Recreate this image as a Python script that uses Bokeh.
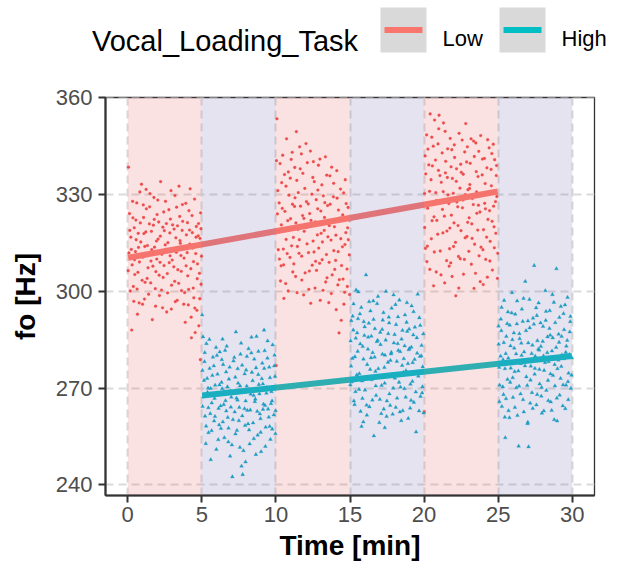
from bokeh.plotting import figure
from bokeh.layouts import column
from bokeh.models import Range1d, FixedTicker
from bokeh.core.properties import value
from bokeh.embed import file_html
from bokeh.resources import INLINE

# ---------------- data ----------------
legend_title = "Vocal_Loading_Task"
tasks = ["Low", "High"]
task_colors = {"Low": "#F8766D", "High": "#00BFC4"}
point_colors = {"Low": "#EE4444", "High": "#08A8C6"}
band_colors = {"Low": "#EB6E6E", "High": "#7D73B4"}

block_start = [0, 5, 10, 15, 20, 25]
block_end = [5, 10, 15, 20, 25, 30]
block_task = ["Low", "High", "Low", "High", "Low", "High"]

x_ticks = [0, 5, 10, 15, 20, 25, 30]
y_ticks = [240, 270, 300, 330, 360]

# linear fits (intercept, slope)
low_fit = [310.4, 0.824]
high_fit = [265.2, 0.493]

block1 = [
(0.05,338.5),(0.12,324.1),(0.21,316.8),(0.30,308.2),(0.38,301.5),(0.44,319.7),(0.52,312.3),(0.61,327.4),(0.69,305.9),(0.77,296.4),
(0.85,321.2),(0.93,333.2),(1.02,310.6),(1.09,317.9),(1.17,302.8),(1.26,325.6),(1.33,314.2),(1.41,299.1),(1.50,330.3),(1.57,309.4),
(1.66,291.2),(1.73,320.5),(1.81,313.7),(1.90,306.1),(1.98,323.8),(2.05,316.2),(2.14,298.7),(2.22,334.0),(2.30,311.5),(2.39,304.3),
(2.47,318.8),(2.55,327.9),(2.63,293.6),(2.71,315.1),(2.80,308.9),(2.88,322.4),(2.96,301.9),(3.05,312.8),(3.13,319.3),(3.21,296.8),
(3.30,326.1),(3.38,306.7),(3.46,332.6),(3.55,314.9),(3.63,300.2),(3.71,321.7),(3.80,310.3),(3.88,290.4),(3.96,317.5),(4.05,304.8),
(4.13,325.0),(4.21,331.8),(4.30,285.6),(4.38,313.4),(4.46,298.0),(4.55,287.2),(4.63,320.1),(4.71,308.5),(4.80,289.3),(4.88,316.4),
(4.95,302.2),
(0.08,311.9),(0.17,300.1),(0.27,288.0),(0.35,322.8),(0.48,305.2),(0.57,316.0),(0.66,292.9),(0.73,313.6),(0.82,330.8),(0.97,303.4),
(1.05,326.8),(1.13,297.6),(1.22,318.4),(1.37,307.3),(1.46,320.9),(1.62,312.9),(1.77,329.1),(1.86,300.8),(1.94,315.6),(2.09,321.5),
(2.18,309.0),(2.35,294.9),(2.43,324.6),(2.59,313.0),(2.67,305.5),(2.84,318.1),(2.92,331.2),(3.00,309.7),(3.17,303.1),(3.25,316.6),
(3.34,297.2),(3.51,323.2),(3.59,311.1),(3.67,318.9),(3.84,299.6),(3.92,327.3),(4.01,312.0),(4.09,295.8),(4.17,319.0),(4.26,307.0),
(4.34,323.5),(4.42,301.0),(4.51,328.6),(4.59,311.7),(4.67,294.1),(4.76,317.2),(4.84,305.6),(4.92,324.3),(4.98,310.9),(4.90,278.8),
(0.03,306.4),(0.14,318.9),(0.24,313.0),(0.33,327.9),(0.41,296.9),(0.46,309.8),(0.55,322.1),(0.63,300.7),(0.71,318.0),(0.79,309.1),
(0.88,315.3),(1.00,296.0),(1.07,322.9),(1.15,313.9),(1.24,331.6),(1.31,304.0),(1.39,311.2),(1.48,326.2),(1.55,302.6),(1.60,318.6),
(1.70,307.8),(1.79,322.3),(1.88,295.4),(1.96,310.0),(2.03,328.3),(2.12,305.0),(2.20,317.1),(2.28,300.4),(2.37,319.9),(2.45,308.0),
(2.53,314.4),(2.61,321.0),(2.69,299.5),(2.78,325.3),(2.86,311.0),(2.94,294.5),(3.03,320.6),(3.11,307.6),(3.19,329.7),(3.28,312.1),
(3.36,320.3),(3.44,302.5),(3.53,315.7),(3.61,306.2),(3.69,326.9),(3.78,296.0),(3.86,313.3),(3.94,307.9),(4.03,321.3),(4.11,300.6),
(4.19,314.6),(4.28,292.0),(4.36,318.2),(4.44,309.2),(4.53,294.8),(4.61,316.8),(4.69,303.9),(4.78,321.0),(4.86,297.7),(4.94,319.4),
]

block2 = [
(5.02,292.7),(5.08,285.9),(5.15,272.4),(5.22,261.3),(5.31,283.8),(5.38,268.7),(5.45,256.2),(5.53,276.1),(5.60,247.8),(5.67,265.4),
(5.75,279.6),(5.83,259.8),(5.90,270.9),(5.98,251.0),(6.06,274.3),(6.13,263.7),(6.21,281.2),(6.29,257.5),(6.37,269.8),(6.44,277.3),
(6.52,254.6),(6.60,266.1),(6.68,283.0),(6.75,260.9),(6.83,272.8),(6.91,248.9),(6.99,267.2),(7.06,242.5),(7.14,278.4),(7.22,262.6),
(7.30,287.4),(7.37,256.9),(7.45,271.5),(7.53,264.0),(7.61,280.5),(7.68,245.8),(7.76,243.2),(7.84,269.3),(7.92,258.4),(7.99,275.6),
(8.07,263.1),(8.15,282.2),(8.23,252.7),(8.30,268.1),(8.38,274.9),(8.46,259.2),(8.54,279.0),(8.61,266.6),(8.69,286.0),(8.77,255.4),
(8.85,271.1),(8.92,262.0),(9.00,250.3),(9.08,277.7),(9.16,265.0),(9.24,281.6),(9.31,257.9),(9.39,270.2),(9.47,263.5),(9.55,276.5),
(9.63,254.1),(9.70,268.9),(9.78,283.4),(9.86,261.7),(9.94,273.6),
(5.05,264.3),(5.18,278.2),(5.27,252.8),(5.42,270.0),(5.57,262.1),(5.71,273.9),(5.86,266.8),(6.02,280.1),(6.17,258.6),(6.33,271.8),
(6.48,264.9),(6.64,275.0),(6.79,253.3),(6.95,269.1),(7.10,260.2),(7.26,273.4),(7.41,266.3),(7.57,251.6),(7.72,277.1),(7.88,263.6),
(8.03,270.6),(8.19,257.0),(8.34,280.9),(8.50,267.7),(8.65,249.4),(8.81,274.2),(8.96,260.5),(9.12,271.3),(9.27,264.6),(9.43,279.3),
(9.58,258.1),(9.74,266.0),(9.89,276.9),(9.97,255.9),(6.40,285.2),(7.95,247.1),(9.20,288.0),
(5.04,275.5),(5.12,267.3),(5.20,281.0),(5.29,258.2),(5.36,273.0),(5.44,263.9),(5.51,285.1),(5.59,269.9),(5.66,256.8),(5.74,267.8),
(5.81,276.9),(5.89,261.2),(5.96,282.6),(6.04,268.3),(6.11,254.0),(6.19,271.0),(6.27,264.5),(6.35,278.8),(6.42,259.5),(6.50,268.9),
(6.57,281.7),(6.65,262.9),(6.73,270.4),(6.80,257.6),(6.88,276.5),(6.96,264.1),(7.03,252.4),(7.11,268.6),(7.19,279.5),(7.27,255.8),
(7.34,266.9),(7.42,276.0),(7.50,259.9),(7.58,270.7),(7.65,283.9),(7.73,261.4),(7.81,250.6),(7.89,274.4),(7.96,266.0),(8.04,279.8),
(8.12,258.9),(8.20,269.6),(8.27,263.2),(8.35,285.8),(8.43,272.3),(8.51,254.3),(8.58,265.8),(8.66,276.3),(8.74,262.8),(8.82,281.4),
(8.89,268.2),(8.97,256.3),(9.05,272.9),(9.13,263.4),(9.21,276.1),(9.29,251.9),(9.36,268.4),(9.44,284.6),(9.52,261.0),(9.60,273.2),
(9.67,265.2),(9.75,257.3),(9.83,270.1),(9.91,280.2),(9.98,263.0),
]

block3 = [
(10.07,353.5),(10.13,331.2),(10.20,318.4),(10.28,339.6),(10.35,307.9),(10.43,325.7),(10.50,313.1),(10.58,336.2),(10.66,302.4),(10.72,347.3),
(10.80,321.9),(10.88,329.8),(10.95,310.5),(11.03,340.9),(11.10,343.1),(11.18,316.7),(11.26,326.3),(11.33,304.6),(11.41,334.4),(11.49,319.2),
(11.56,311.8),(11.64,338.0),(11.72,342.6),(11.80,323.5),(11.87,298.9),(11.95,331.9),(12.03,345.8),(12.10,314.7),(12.18,327.1),(12.26,306.3),
(12.33,343.5),(12.41,320.8),(12.49,335.3),(12.57,312.2),(12.64,301.0),(12.72,328.4),(12.80,317.5),(12.87,339.1),(12.95,308.7),(13.03,324.9),
(13.10,333.0),(13.18,300.3),(13.26,318.9),(13.34,341.7),(13.41,311.4),(13.49,326.6),(13.57,296.5),(13.64,335.8),(13.72,315.9),(13.80,305.1),
(13.88,329.3),(13.95,320.0),(14.03,309.6),(14.11,337.4),(14.18,302.0),(14.26,287.1),(14.34,322.7),(14.41,291.0),(14.49,313.8),(14.57,330.5),
(14.64,299.7),(14.72,318.2),(14.80,306.9),(14.87,326.0),(14.95,311.3),
(10.10,324.0),(10.24,310.0),(10.39,333.7),(10.54,297.8),(10.69,316.1),(10.84,337.0),(10.99,322.5),(11.14,306.0),(11.29,329.0),(11.45,313.9),
(11.60,344.8),(11.75,303.5),(11.91,318.6),(12.06,327.8),(12.22,300.6),(12.37,322.0),(12.53,340.2),(12.68,309.3),(12.83,331.4),(12.99,297.2),
(13.14,315.3),(13.30,327.5),(13.45,304.2),(13.60,320.4),(13.76,338.5),(13.91,312.6),(14.07,294.3),(14.22,325.2),(14.38,316.3),(14.53,303.8),
(14.68,334.6),(14.84,319.7),(14.97,299.0),(10.02,277.0),(11.38,349.5),(12.45,308.1),
(10.04,340.5),(10.16,312.9),(10.22,327.4),(10.31,303.2),(10.37,320.6),(10.46,342.2),(10.52,308.2),(10.61,324.8),(10.68,332.6),(10.76,311.7),
(10.83,300.1),(10.91,319.5),(10.97,335.1),(11.06,314.1),(11.12,327.0),(11.21,308.5),(11.27,338.4),(11.35,321.2),(11.43,299.6),(11.51,330.6),
(11.58,316.0),(11.66,326.4),(11.74,310.9),(11.82,336.6),(11.89,322.6),(11.97,305.7),(12.05,319.8),(12.12,339.9),(12.20,312.0),(12.28,324.1),
(12.35,296.3),(12.43,330.1),(12.51,315.6),(12.59,334.0),(12.66,321.5),(12.74,306.5),(12.82,325.6),(12.89,313.4),(12.97,341.0),(13.05,318.0),
(13.12,309.8),(13.20,329.6),(13.28,322.9),(13.36,302.9),(13.43,336.0),(13.51,316.9),(13.59,309.0),(13.66,327.0),(13.74,299.3),(13.82,321.8),
(13.90,333.5),(13.97,306.8),(14.05,317.4),(14.13,328.9),(14.20,312.3),(14.28,303.6),(14.36,331.7),(14.43,308.0),(14.51,323.7),(14.59,296.0),
(14.66,314.5),(14.74,327.2),(14.82,301.5),(14.89,316.0),(14.96,322.1),
]

block4 = [
(15.04,284.6),(15.11,271.9),(15.18,292.3),(15.26,266.0),(15.33,279.7),(15.41,300.4),(15.48,287.1),(15.56,299.8),(15.63,274.5),(15.71,262.8),
(15.78,258.1),(15.86,282.9),(15.93,290.6),(16.01,269.4),(16.08,305.1),(16.16,277.3),(16.23,285.8),(16.31,264.2),(16.38,293.9),(16.46,272.6),
(16.53,281.0),(16.61,255.2),(16.68,288.4),(16.76,267.7),(16.83,296.2),(16.91,276.0),(16.98,259.3),(17.06,283.5),(17.13,270.8),(17.21,291.1),
(17.28,263.5),(17.36,280.2),(17.43,300.0),(17.51,274.0),(17.58,286.9),(17.66,268.2),(17.73,278.6),(17.81,294.8),(17.88,261.9),(17.96,284.0),
(18.03,273.1),(18.11,289.7),(18.18,266.9),(18.26,281.7),(18.33,297.3),(18.41,270.3),(18.48,285.2),(18.56,263.0),(18.63,279.1),(18.71,292.7),
(18.78,275.4),(18.86,287.6),(18.93,260.6),(19.01,282.3),(19.08,271.2),(19.16,295.5),(19.23,277.9),(19.31,265.6),(19.38,288.9),(19.46,256.4),
(19.53,280.8),(19.61,273.7),(19.68,291.8),(19.76,267.4),(19.83,283.2),(19.91,276.6),(19.97,262.3),
(15.07,276.8),(15.22,288.0),(15.37,268.9),(15.52,281.4),(15.67,293.0),(15.82,272.2),(15.97,286.3),(16.12,264.7),(16.27,290.1),(16.42,279.4),
(16.57,297.0),(16.72,275.2),(16.87,284.8),(17.02,266.5),(17.17,288.2),(17.32,276.4),(17.47,261.2),(17.62,292.0),(17.77,280.6),(17.92,270.0),
(18.07,295.9),(18.22,283.8),(18.37,262.6),(18.52,277.0),(18.67,269.8),(18.82,290.4),(18.97,281.9),(19.12,266.2),(19.27,286.5),(19.42,274.8),
(19.57,299.1),(19.72,279.8),(19.87,268.5),(15.90,259.5),(17.35,257.7),
(15.02,271.0),(15.09,290.9),(15.16,279.2),(15.24,296.1),(15.31,264.9),(15.39,285.5),(15.46,274.1),(15.54,291.5),(15.61,269.6),(15.69,283.7),
(15.76,295.0),(15.84,266.8),(15.91,279.0),(15.99,289.0),(16.06,272.9),(16.14,261.6),(16.21,282.1),(16.29,296.8),(16.36,275.8),(16.44,286.1),
(16.51,266.3),(16.59,291.3),(16.66,279.6),(16.74,270.7),(16.81,284.4),(16.89,298.4),(16.96,273.3),(17.04,287.3),(17.11,262.1),(17.19,280.5),
(17.26,293.4),(17.34,271.5),(17.41,284.9),(17.49,266.0),(17.56,278.0),(17.64,290.2),(17.71,264.6),(17.79,281.1),(17.86,273.7),(17.94,298.9),
(18.01,286.6),(18.09,264.0),(18.16,278.3),(18.24,292.1),(18.31,271.8),(18.39,281.3),(18.46,259.9),(18.54,287.9),(18.61,274.9),(18.69,283.1),
(18.76,267.2),(18.84,296.5),(18.91,277.6),(18.99,288.3),(19.06,263.8),(19.14,282.7),(19.21,272.1),(19.29,293.7),(19.36,278.9),(19.44,268.8),
(19.51,285.6),(19.59,275.0),(19.66,262.9),(19.74,289.4),(19.81,280.0),(19.89,270.4),(19.95,286.8),
]

block5 = [
(20.04,319.8),(20.11,336.4),(20.19,309.2),(20.26,344.1),(20.34,327.0),(20.41,355.0),(20.49,316.3),(20.56,338.9),(20.64,301.7),(20.71,353.1),
(20.79,330.6),(20.86,322.0),(20.94,345.7),(21.01,354.6),(21.09,312.5),(21.16,333.8),(21.24,325.4),(21.31,352.2),(21.39,302.6),(21.46,340.3),
(21.54,318.7),(21.61,329.9),(21.69,307.8),(21.76,347.4),(21.84,323.6),(21.91,335.0),(21.99,313.9),(22.06,341.5),(22.14,298.6),(22.21,327.7),
(22.29,320.4),(22.36,349.0),(22.44,310.1),(22.51,336.9),(22.59,325.9),(22.66,305.3),(22.74,343.2),(22.81,352.0),(22.89,317.0),(22.96,331.5),
(23.04,322.8),(23.11,339.7),(23.19,308.4),(23.26,328.8),(23.34,346.6),(23.41,314.6),(23.49,346.0),(23.56,324.2),(23.64,335.6),(23.71,311.0),
(23.79,303.0),(23.86,330.1),(23.94,341.0),(24.01,319.1),(24.09,327.3),(24.16,309.9),(24.24,338.3),(24.31,322.3),(24.39,344.5),(24.46,315.5),
(24.54,332.7),(24.61,306.6),(24.69,326.4),(24.76,340.8),(24.84,318.0),(24.91,329.4),(24.97,311.8),
(20.07,342.0),(20.22,314.0),(20.37,331.0),(20.52,347.8),(20.67,323.1),(20.82,306.0),(20.97,337.5),(21.12,327.6),(21.27,318.1),(21.42,349.6),
(21.57,335.3),(21.72,313.2),(21.87,343.9),(22.02,321.2),(22.17,334.1),(22.32,310.8),(22.47,339.4),(22.62,328.3),(22.77,316.6),(22.92,344.8),
(23.07,331.9),(23.22,320.9),(23.37,300.9),(23.52,337.1),(23.67,326.7),(23.82,348.3),(23.97,312.9),(24.12,333.4),(24.27,304.4),(24.42,325.0),
(24.57,342.7),(24.72,320.0),(24.87,335.9),(20.01,262.6),(21.80,308.8),
(20.03,330.3),(20.09,313.3),(20.17,348.5),(20.24,325.8),(20.32,339.2),(20.39,306.8),(20.47,334.6),(20.54,321.9),(20.62,345.0),(20.69,312.2),
(20.77,340.7),(20.84,328.1),(20.92,317.7),(20.99,350.4),(21.07,335.9),(21.14,305.1),(21.22,342.9),(21.29,330.9),(21.37,323.3),(21.44,336.7),
(21.52,309.5),(21.59,344.2),(21.67,327.2),(21.74,319.6),(21.82,338.6),(21.89,304.6),(21.97,330.4),(22.04,345.4),(22.12,315.2),(22.19,338.0),
(22.27,326.2),(22.34,301.0),(22.42,332.0),(22.49,318.8),(22.57,346.9),(22.64,336.3),(22.72,309.9),(22.79,330.0),(22.87,340.1),(22.94,321.4),
(23.02,312.4),(23.09,333.1),(23.17,347.3),(23.24,316.4),(23.32,326.9),(23.39,341.8),(23.47,305.6),(23.54,330.8),(23.62,319.0),(23.69,343.4),
(23.77,324.6),(23.84,313.7),(23.92,336.1),(23.99,302.1),(24.07,341.2),(24.14,325.6),(24.22,316.8),(24.29,347.0),(24.37,330.7),(24.44,309.4),
(24.52,337.8),(24.59,321.7),(24.67,345.6),(24.74,313.5),(24.82,327.8),(24.89,339.0),(24.95,304.0),
]

block6 = [
(25.03,283.6),(25.10,270.9),(25.18,291.4),(25.25,264.3),(25.33,278.8),(25.40,297.2),(25.48,254.6),(25.55,286.0),(25.63,272.7),(25.70,263.0),
(25.78,289.5),(25.85,276.2),(25.93,299.6),(26.00,267.1),(26.08,282.4),(26.15,292.9),(26.23,270.1),(26.30,261.5),(26.38,252.0),(26.45,285.3),
(26.53,277.6),(26.60,294.5),(26.68,266.4),(26.75,281.2),(26.83,303.1),(26.90,273.5),(26.98,259.0),(27.05,251.8),(27.13,288.7),(27.20,276.8),
(27.28,268.6),(27.35,291.7),(27.43,308.0),(27.50,279.9),(27.58,264.8),(27.65,284.7),(27.73,296.4),(27.80,271.3),(27.88,282.9),(27.95,262.2),
(28.03,289.1),(28.10,275.5),(28.18,300.2),(28.25,269.3),(28.33,285.9),(28.40,278.2),(28.48,294.0),(28.55,265.7),(28.63,281.5),(28.70,273.9),
(28.78,260.2),(28.85,290.3),(28.93,307.0),(29.00,276.0),(29.08,286.7),(29.15,267.8),(29.23,295.3),(29.30,280.3),(29.38,271.0),(29.45,288.1),
(29.53,263.6),(29.60,283.0),(29.68,298.1),(29.75,274.6),(29.83,287.4),(29.90,269.9),(29.97,279.4),
(25.06,276.4),(25.21,287.8),(25.36,268.0),(25.51,280.7),(25.66,293.6),(25.81,271.8),(25.96,285.0),(26.11,275.1),(26.26,289.9),(26.41,270.6),
(26.56,283.9),(26.71,297.8),(26.86,278.5),(27.01,290.8),(27.16,265.3),(27.31,283.3),(27.46,274.3),(27.61,292.5),(27.76,281.8),(27.91,267.5),
(28.06,280.0),(28.21,291.0),(28.36,272.4),(28.51,286.4),(28.66,299.0),(28.81,277.3),(28.96,266.9),(29.11,284.2),(29.26,276.7),(29.41,293.1),
(29.56,281.1),(29.71,272.0),(29.86,290.6),(25.45,261.0),(27.00,259.4),
(25.02,289.2),(25.08,265.8),(25.16,279.9),(25.23,295.0),(25.31,270.4),(25.38,284.1),(25.46,276.0),(25.53,266.7),(25.61,290.0),(25.68,279.3),
(25.76,260.8),(25.83,283.1),(25.91,293.3),(25.98,273.2),(26.06,287.1),(26.13,264.0),(26.21,280.6),(26.28,297.0),(26.36,275.3),(26.43,286.9),
(26.51,268.2),(26.58,280.1),(26.66,290.7),(26.73,262.6),(26.81,276.9),(26.88,287.8),(26.96,270.8),(27.03,284.0),(27.11,297.5),(27.18,272.5),
(27.26,280.7),(27.33,263.7),(27.41,289.8),(27.48,276.1),(27.56,294.9),(27.63,268.0),(27.71,282.1),(27.78,275.8),(27.86,290.2),(27.93,270.2),
(28.01,284.5),(28.08,262.9),(28.16,277.9),(28.23,293.8),(28.31,281.0),(28.38,266.1),(28.46,288.5),(28.53,274.4),(28.61,263.1),(28.68,285.6),
(28.76,296.6),(28.83,270.7),(28.91,282.6),(28.98,259.8),(29.06,278.7),(29.13,291.9),(29.21,273.0),(29.28,286.0),(29.36,264.5),(29.43,279.1),
(29.51,295.8),(29.58,270.9),(29.66,284.8),(29.73,266.4),(29.81,280.4),(29.88,292.2),(29.95,274.0),
]

low_points = block1 + block3 + block5
high_points = block2 + block4 + block6

X_MIN, X_MAX = -1.5, 31.5
Y_MIN, Y_MAX = 236.7, 360.1

FONT = value("Liberation Sans")

# ---------------- legend strip ----------------
LW, LH = 618, 60
leg = figure(width=LW, height=LH, x_range=Range1d(0, LW), y_range=Range1d(LH, 0),
             output_backend="svg", toolbar_location=None,
             x_axis_type=None, y_axis_type=None, min_border=0)
leg.outline_line_color = None
leg.background_fill_color = "white"
leg.border_fill_color = "white"
try:
    leg.frame_align = False
except Exception:
    pass

leg.text(x=[91.5], y=[40.7], text=[legend_title], text_font=FONT,
         text_font_size="29px", text_baseline="alphabetic", text_align="left",
         text_color="black")

key_left = [380, 499]
key_w = 46
label_left = [442, 561]
for i, t in enumerate(tasks):
    leg.quad(left=[key_left[i]], right=[key_left[i] + key_w], top=[7], bottom=[52],
             fill_color="#D9D9D9", line_color=None)
    leg.line(x=[key_left[i] + 4, key_left[i] + key_w - 4], y=[29.5, 29.5],
             line_color=task_colors[t], line_width=6)
    leg.text(x=[label_left[i]], y=[37.6], text=[t], text_font=FONT,
             text_font_size="22px", text_baseline="alphabetic", text_align="left",
             text_color="black")

# ---------------- main plot ----------------
p = figure(width=618, height=508, x_range=Range1d(X_MIN, X_MAX),
           y_range=Range1d(Y_MIN, Y_MAX), output_backend="svg",
           toolbar_location=None, min_border_left=105, min_border_right=24,
           min_border_top=37, min_border_bottom=73)
p.background_fill_color = "white"
p.border_fill_color = "white"
p.outline_line_color = "#333333"
p.outline_line_width = 1.3
try:
    p.frame_align = False
except Exception:
    pass

# grid
p.xgrid.ticker = FixedTicker(ticks=x_ticks)
p.ygrid.ticker = FixedTicker(ticks=y_ticks)
for g in (p.xgrid, p.ygrid):
    g.grid_line_color = "#DADADA"
    g.grid_line_width = 2
    g.grid_line_dash = "8 5"

# axes
p.xaxis.ticker = FixedTicker(ticks=x_ticks)
p.yaxis.ticker = FixedTicker(ticks=y_ticks)
for ax in (p.xaxis, p.yaxis):
    ax.axis_line_color = "#333333"
    ax.axis_line_width = 2.2
    ax.major_tick_line_color = "#333333"
    ax.major_tick_line_width = 2
    ax.major_tick_out = 7
    ax.major_tick_in = 0
    ax.minor_tick_line_color = None
    ax.major_label_text_font = "Liberation Sans"
    ax.major_label_text_font_size = "22px"
    ax.major_label_text_color = "#4D4D4D"
    ax.axis_label_text_font = "Liberation Sans"
    ax.axis_label_text_font_size = "28px"
    ax.axis_label_text_font_style = "bold"
    ax.axis_label_text_color = "black"
p.xaxis.axis_label = "Time [min]"
p.yaxis.axis_label = "fo [Hz]"
p.xaxis.major_label_standoff = 4
p.xaxis.axis_label_standoff = 5
p.yaxis.major_label_standoff = 6
p.yaxis.axis_label_standoff = 12

# points
p.scatter(x=[pt[0] for pt in low_points], y=[pt[1] for pt in low_points],
          marker="circle", size=2.8, fill_color=point_colors["Low"],
          line_color=point_colors["Low"], line_width=0.3)
p.scatter(x=[pt[0] for pt in high_points], y=[pt[1] for pt in high_points],
          marker="triangle", size=3.8, fill_color=point_colors["High"],
          line_color=point_colors["High"], line_width=0.3)

# regression lines
for pts, fit, t in ((low_points, low_fit, "Low"), (high_points, high_fit, "High")):
    xs = [min(pt[0] for pt in pts), max(pt[0] for pt in pts)]
    ys = [fit[0] + fit[1] * xv for xv in xs]
    p.line(x=xs, y=ys, line_color=task_colors[t], line_width=6)

# task bands (translucent overlay)
p.quad(left=block_start, right=block_end, bottom=[Y_MIN] * len(block_start),
       top=[Y_MAX] * len(block_start),
       fill_color=[band_colors[t] for t in block_task], fill_alpha=0.2,
       line_color=None)

layout = column(leg, p)
open("out.html", "w").write(file_html(layout, INLINE))
